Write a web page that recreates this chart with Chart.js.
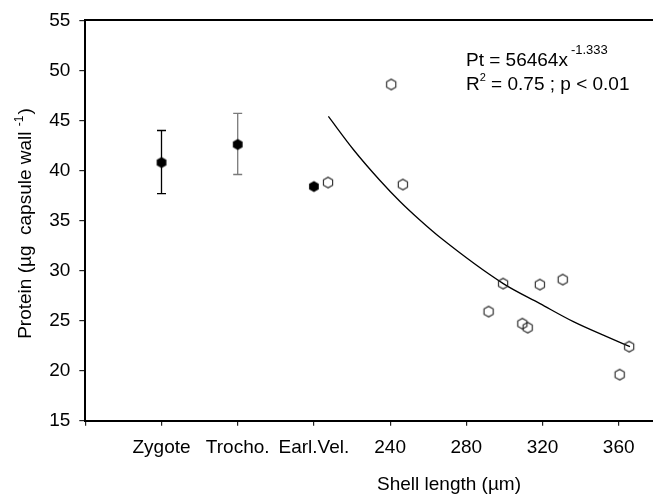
<!DOCTYPE html>
<html>
<head>
<meta charset="utf-8">
<script src="https://cdn.jsdelivr.net/npm/chart.js@4.4.1/dist/chart.umd.min.js"></script>
<style>
  html, body { margin: 0; padding: 0; background: #fff; overflow: hidden; }
  #wrap { width: 653px; height: 495px; }
  canvas { display: block; }
</style>
</head>
<body>
<div id="wrap"><canvas id="chart" width="653" height="495"></canvas></div>
<script>
// x axis: stage categories on the left, shell length (µm) on the right
const xTickValues = [80, 120, 160, 200, 240, 280, 320, 360];
const xTickLabels = ['', 'Zygote', 'Trocho.', 'Earl.Vel.', '240', '280', '320', '360'];

// early stages (filled symbols, mean with error bar)
const stageX = [120, 160, 200];
const stageMean = [40.8, 42.6, 38.4];
const stageLow = [37.7, 39.6, null];
const stageHigh = [44.0, 45.7, null];

// veliger capsules (open symbols)
const shellLength = [207.4, 240.6, 246.7, 291.7, 299.3, 309.4, 312.2, 318.6, 330.6, 360.5, 365.5];
const shellProtein = [38.8, 48.6, 38.6, 25.9, 28.7, 24.7, 24.3, 28.6, 29.1, 19.6, 22.4];

// fitted curve
const fitX = [207.6, 220.7, 234.7, 245.2, 255.3, 266.3, 299.4, 318.7, 336.2, 353.7, 365.9];
const fitY = [45.4, 42.1, 39.0, 36.9, 35.1, 33.3, 28.7, 26.7, 24.9, 23.4, 22.4];

const FONT = "'Liberation Sans', Arial, sans-serif";
const errColors = ['#000', '#7a7a7a', '#000'];

function hexagon(filled) {
    const c = document.createElement('canvas');
    c.width = 14; c.height = 14;
    const g = c.getContext('2d');
    const r = filled ? 5.6 : 5.3;
    g.beginPath();
    for (let i = 0; i < 6; i++) {
        const a = Math.PI / 2 + i * Math.PI / 3;
        const px = 7 + r * Math.cos(a), py = 7 + r * Math.sin(a);
        if (i === 0) g.moveTo(px, py); else g.lineTo(px, py);
    }
    g.closePath();
    if (filled) {
        g.fillStyle = '#000';
        g.fill();
    } else {
        g.strokeStyle = '#222';
        g.lineWidth = 1.1;
        g.stroke();
    }
    return c;
}

const errorBars = {
    id: 'errorBars',
    beforeDatasetsDraw(chart) {
        const { ctx, scales: { x, y } } = chart;
        ctx.save();
        ctx.lineWidth = 1.3;
        stageX.forEach((v, i) => {
            if (stageLow[i] == null) return;
            const px = x.getPixelForValue(v);
            const top = y.getPixelForValue(stageHigh[i]);
            const bot = y.getPixelForValue(stageLow[i]);
            ctx.strokeStyle = errColors[i];
            ctx.beginPath();
            ctx.moveTo(px, top); ctx.lineTo(px, bot);
            ctx.moveTo(px - 4.5, top); ctx.lineTo(px + 4.5, top);
            ctx.moveTo(px - 4.5, bot); ctx.lineTo(px + 4.5, bot);
            ctx.stroke();
        });
        ctx.restore();
    }
};

const texts = {
    id: 'texts',
    afterDraw(chart) {
        const { ctx } = chart;
        ctx.save();
        ctx.fillStyle = '#000';
        ctx.textBaseline = 'alphabetic';
        ctx.textAlign = 'left';

        // equation
        ctx.font = '19px ' + FONT;
        const l1 = 'Pt = 56464x';
        ctx.fillText(l1, 466, 66);
        let w = ctx.measureText(l1).width;
        ctx.font = '13px ' + FONT;
        ctx.fillText('-1.333', 466 + w + 3, 54);

        ctx.font = '19px ' + FONT;
        ctx.fillText('R', 466, 90);
        w = ctx.measureText('R').width;
        ctx.font = '11px ' + FONT;
        ctx.fillText('2', 466 + w, 81);
        const w2 = ctx.measureText('2').width;
        ctx.font = '19px ' + FONT;
        ctx.fillText(' = 0.75 ; p < 0.01', 466 + w + w2, 90);

        // x title
        ctx.textAlign = 'center';
        ctx.fillText('Shell length (µm)', 449, 490);

        // y title
        ctx.translate(31, 224);
        ctx.rotate(-Math.PI / 2);
        ctx.textAlign = 'left';
        const a = 'Protein (µg  capsule wall ';
        const s = '-1';
        const b = ')';
        ctx.font = '19px ' + FONT;
        const wa = ctx.measureText(a).width;
        const wb = ctx.measureText(b).width;
        ctx.font = '12px ' + FONT;
        const ws = ctx.measureText(s).width;
        const x0 = -(wa + ws + wb) / 2;
        ctx.font = '19px ' + FONT;
        ctx.fillText(a, x0, 0);
        ctx.font = '12px ' + FONT;
        ctx.fillText(s, x0 + wa, -8);
        ctx.font = '19px ' + FONT;
        ctx.fillText(b, x0 + wa + ws + 1, 0);
        ctx.restore();
    }
};

function fitX_(scale, h) {
    scale.height = h;
    scale.paddingLeft = 0;
    scale.paddingRight = 0;
}

new Chart(document.getElementById('chart'), {
    type: 'scatter',
    data: {
        datasets: [
            {
                label: 'stages',
                data: stageX.map((v, i) => ({ x: v, y: stageMean[i] })),
                pointStyle: hexagon(true),
                pointRadius: 5
            },
            {
                label: 'veliger',
                data: shellLength.map((v, i) => ({ x: v, y: shellProtein[i] })),
                pointStyle: hexagon(false),
                pointRadius: 5
            },
            {
                type: 'line',
                label: 'fit',
                data: fitX.map((v, i) => ({ x: v, y: fitY[i] })),
                borderColor: '#000',
                borderWidth: 1.3,
                pointRadius: 0,
                fill: false,
                cubicInterpolationMode: 'monotone'
            }
        ]
    },
    options: {
        responsive: false,
        animation: false,
        layout: { autoPadding: false, padding: { top: 19, right: 0, left: 0, bottom: 0 } },
        plugins: {
            legend: { display: false },
            tooltip: { enabled: false }
        },
        scales: {
            x: {
                type: 'linear',
                position: 'bottom',
                min: 80,
                max: 378,
                afterBuildTicks: (scale) => {
                    scale.ticks = xTickValues.map(v => ({ value: v }));
                },
                afterFit: (scale) => fitX_(scale, 74.3),
                ticks: {
                    color: '#000',
                    font: { family: FONT, size: 19 },
                    padding: 11,
                    maxRotation: 0,
                    autoSkip: false,
                    callback: (value, index) => xTickLabels[index]
                },
                grid: {
                    drawOnChartArea: false,
                    drawTicks: true,
                    tickLength: 5,
                    color: '#222',
                    lineWidth: 1.2
                },
                border: { display: true, color: '#000', width: 2 }
            },
            xTop: {
                type: 'linear',
                position: 'top',
                min: 80,
                max: 378,
                afterFit: (scale) => fitX_(scale, 0),
                ticks: { display: false },
                grid: { display: false, drawTicks: false },
                border: { display: true, color: '#000', width: 2 }
            },
            y: {
                min: 15,
                max: 55,
                afterFit: (scale) => { scale.width = 85.3; },
                ticks: {
                    stepSize: 5,
                    color: '#000',
                    font: { family: FONT, size: 19 },
                    padding: 9
                },
                grid: {
                    drawOnChartArea: false,
                    drawTicks: true,
                    tickLength: 6,
                    color: '#222',
                    lineWidth: 1.2
                },
                border: { display: true, color: '#000', width: 2 }
            }
        }
    },
    plugins: [errorBars, texts]
});
</script>
</body>
</html>
